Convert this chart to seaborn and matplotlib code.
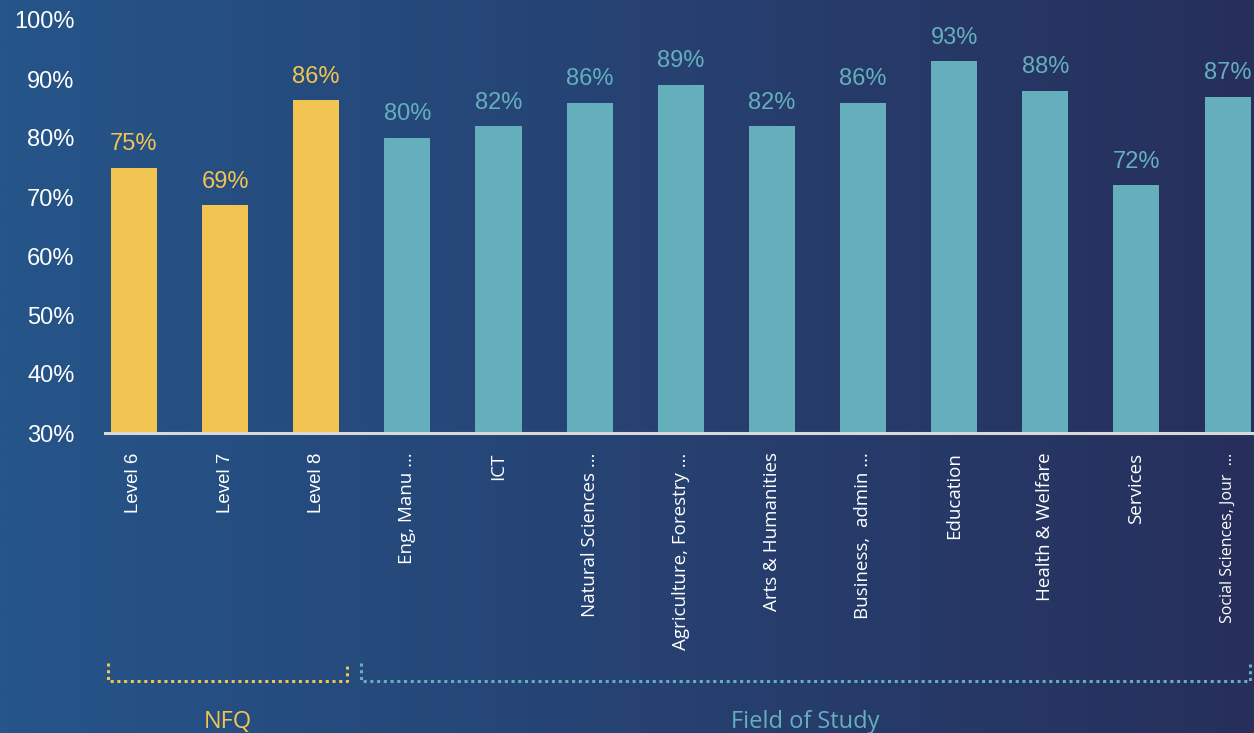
import numpy as np
import pandas as pd
import matplotlib
matplotlib.use("Agg")
import matplotlib.pyplot as plt
from matplotlib.colors import LinearSegmentedColormap
import seaborn as sns

categories = ["Level 6", "Level 7", "Level 8", "Eng, Manu …", "ICT", "Natural Sciences …",
              "Agriculture, Forestry …", "Arts & Humanities", "Business,  admin …",
              "Education", "Health & Welfare", "Services", "Social Sciences, Jour  …"]
values = [75, 68.6, 86.4, 80, 82, 86, 89, 82, 86, 93, 88, 72, 87]
groups = ["NFQ"] * 3 + ["Field of Study"] * 10

yellow = "#f2c451"
teal = "#65afbd"
pal = {"NFQ": yellow, "Field of Study": teal}

df = pd.DataFrame({"cat": categories, "val": values, "grp": groups})

sns.set_style("white")
plt.rcParams['font.family'] = ['Liberation Sans', 'DejaVu Sans']

fig = plt.figure(figsize=(12.54, 7.33), dpi=100)

# gradient background
bg = fig.add_axes([0, 0, 1, 1], zorder=-10)
grad = np.linspace(0, 1, 1254).reshape(1, -1)
cmap = LinearSegmentedColormap.from_list("bg", ["#25558a", "#272f5b"])
bg.imshow(grad, aspect="auto", cmap=cmap, extent=[0, 1, 0, 1], interpolation="bilinear")
bg.axis("off")

ax = fig.add_axes([105 / 1254, 1 - 433 / 733, 1 - 105 / 1254, 413 / 733])
ax.set_facecolor("none")
sns.barplot(data=df, x="cat", y="val", hue="grp", palette=pal, saturation=1,
            dodge=False, width=0.505, legend=False, linewidth=0, ax=ax)

ax.set_ylim(30, 100)
ax.set_xlim(-0.318, 12.29)
ax.set_yticks(range(30, 101, 10))
ax.set_yticklabels([f"{t}%" for t in range(30, 101, 10)], fontsize=17, color="white")
ax.tick_params(axis="y", length=0, pad=22)
ax.tick_params(axis="x", length=0, pad=14)
ax.set_xticks(range(len(categories)))
ax.set_xticklabels(categories, rotation=90, color="white", fontsize=13.5)
for i, lab in enumerate(ax.get_xticklabels()):
    if i >= 3:
        lab.set_fontfamily(["Open Sans", "DejaVu Sans"])
    if i == len(categories) - 1:
        lab.set_fontsize(11.5)
ax.set_xlabel("")
ax.set_ylabel("")

for s in ["top", "right", "left"]:
    ax.spines[s].set_visible(False)
ax.spines["bottom"].set_color("#d9d9d9")
ax.spines["bottom"].set_linewidth(2.2)

# value labels above bars
for i, (v, g) in enumerate(zip(values, groups)):
    ax.annotate(f"{v:.0f}%", (i, v), xytext=(0, 9), textcoords="offset points",
                ha="center", va="bottom", fontsize=17, color=pal[g])

# group brackets
tr = ax.get_xaxis_transform()
for x0, x1, c, name in [(-0.285, 2.34, yellow, "NFQ"), (2.49, 12.25, teal, "Field of Study")]:
    ax.plot([x0, x0, x1, x1], [-0.557, -0.600, -0.600, -0.557], transform=tr, clip_on=False,
            color=c, linestyle=(0, (1, 1.2)), linewidth=2.2)
    ax.text((x0 + x1) / 2, -0.70, name, transform=tr, ha="center", va="center",
            color=c, fontsize=17, fontfamily=["Open Sans", "DejaVu Sans"])

fig.savefig("out.png", dpi=100)
